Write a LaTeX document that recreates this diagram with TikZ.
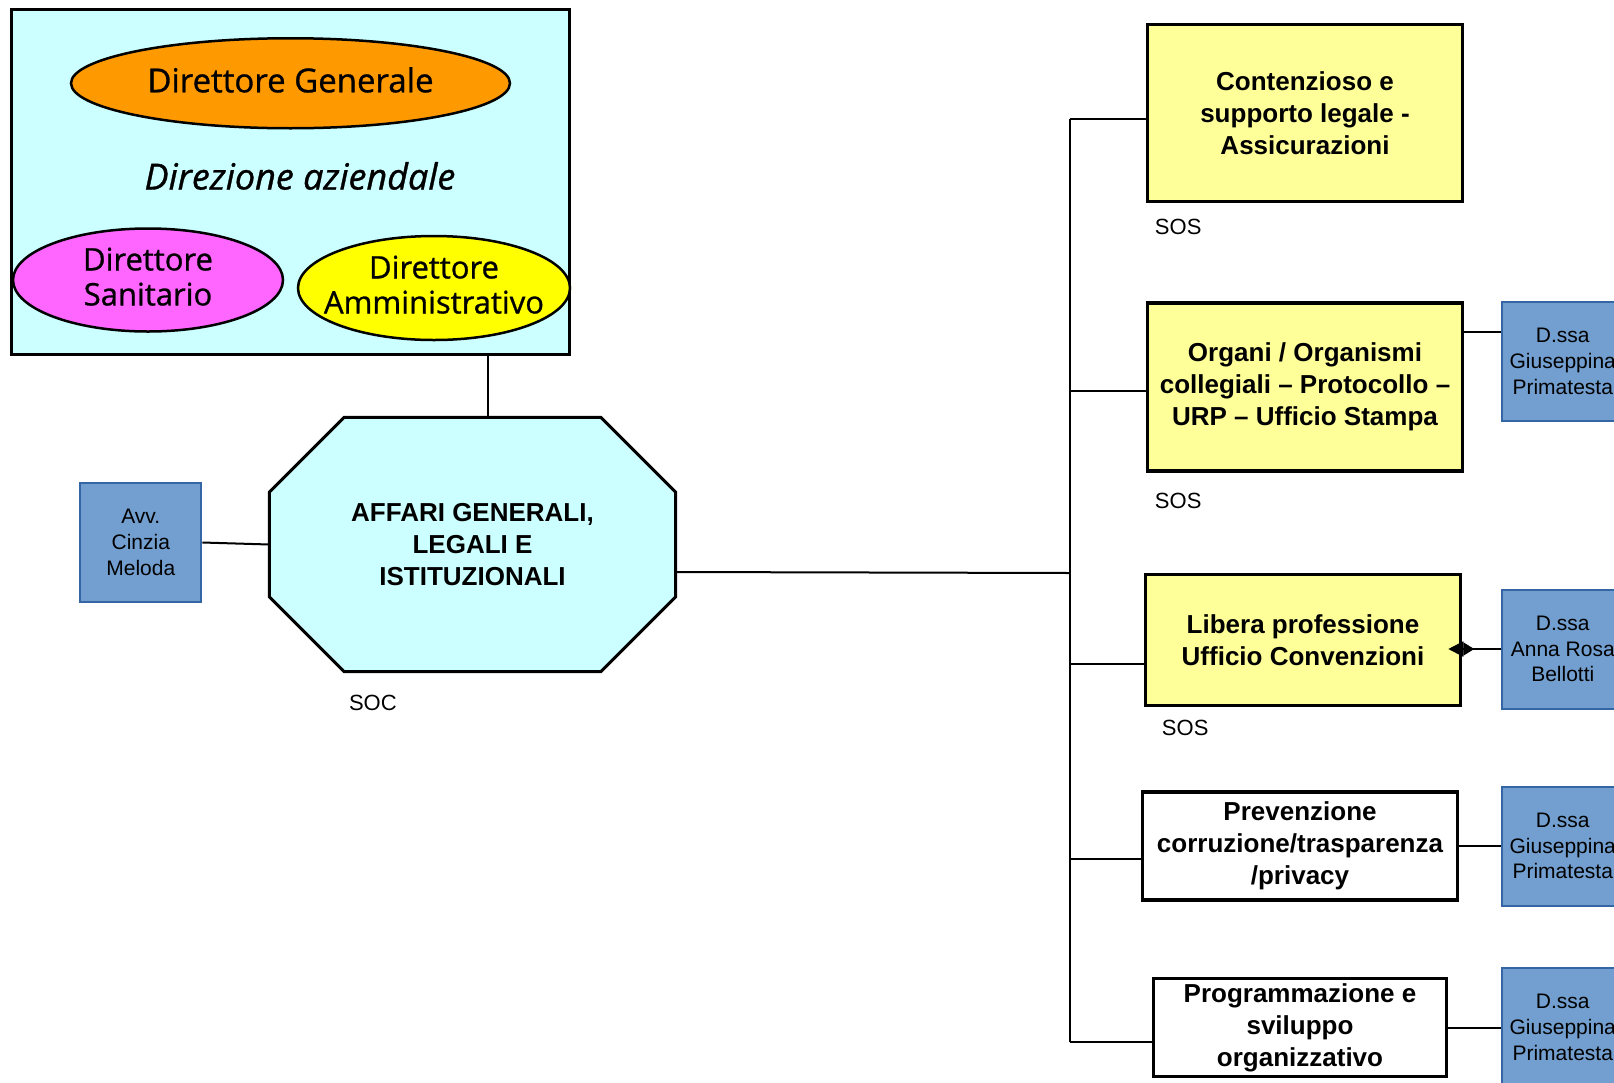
\documentclass[tikz,border=0pt]{standalone}
\usepackage{fontspec}
\setmainfont{Liberation Sans}
\newfontfamily\ellfont[FakeBold=0.9]{Open Sans}
\usetikzlibrary{positioning, shapes.geometric, arrows.meta, calc, backgrounds}

\definecolor{dircyan}{HTML}{CCFFFF}
\definecolor{dgorange}{HTML}{FF9900}
\definecolor{dsmagenta}{HTML}{FF66FF}
\definecolor{dayellow}{HTML}{FFFF00}
\definecolor{sosyellow}{HTML}{FFFF99}
\definecolor{respfill}{HTML}{729FCF}
\definecolor{respline}{HTML}{3465A4}

\tikzset{
  direll/.style={ellipse, draw, line width=2.5pt, inner sep=0pt, text depth=7pt, align=center,
    font=\ellfont\fontsize{31}{35}\selectfont},
  unit/.style={rectangle, draw, line width=3.5pt, fill=sosyellow, inner sep=0pt,
    minimum width=315pt, align=center, font=\bfseries\fontsize{26}{32}\selectfont},
  resp/.style={rectangle, draw=respline, line width=2pt, fill=respfill, inner sep=0pt,
    minimum width=121pt, minimum height=119pt, align=center,
    font=\fontsize{21}{25.7}\selectfont},
  lbl/.style={inner sep=0pt, anchor=west, font=\fontsize{22}{26}\selectfont},
  conn/.style={line width=2pt},
}

\begin{document}
\begin{tikzpicture}[x=1pt, y=-1pt]
\useasboundingbox (0,0) rectangle (1614,1082);
\clip (0,0) rectangle (1614,1082);

% direzione aziendale
\node[draw, line width=3pt, fill=dircyan, minimum width=558pt, minimum height=345pt] (dir) at (290.5,182) {};
\node[direll, fill=dgorange, minimum width=439pt, minimum height=90pt,
  font=\ellfont\fontsize{33}{37}\selectfont] (dg) [below=29pt of dir.north] {Direttore Generale};
\node[font=\ellfont\itshape\fontsize{36}{40}\selectfont] (daz) at (300,176) {Direzione aziendale};
\node[direll, fill=dsmagenta, minimum width=270pt, minimum height=103pt] (ds) at (148,280) {Direttore\\Sanitario};
\node[direll, fill=dayellow, inner xsep=-14pt, minimum width=272pt, minimum height=104pt] (da) at (434,288) {Direttore\\Amministrativo};

% SOC
\node[minimum width=406pt, minimum height=254pt, inner sep=0pt, align=center,
  font=\bfseries\fontsize{26}{32}\selectfont] (agi) at (472.5,544.5)
  {AFFARI GENERALI,\\LEGALI E\\ISTITUZIONALI};
\begin{scope}[on background layer]
\draw[line width=3pt, fill=dircyan] ([xshift=75pt]agi.north west) -- ([xshift=-75pt]agi.north east)
  -- ([yshift=-75pt]agi.north east) -- ([yshift=75pt]agi.south east)
  -- ([xshift=-75pt]agi.south east) -- ([xshift=75pt]agi.south west)
  -- ([yshift=75pt]agi.south west) -- ([yshift=-75pt]agi.north west) -- cycle;
\end{scope}
\node[lbl] (soc) at ([xshift=79.5pt, yshift=-31.5pt]agi.south west) {SOC};
\node[resp] (avv) [left=67pt of agi, yshift=2pt] {Avv.\\Cinzia\\Meloda};

% SOS
\node[unit, minimum height=177pt] (c1) at (1305,113) {Contenzioso e\\supporto legale -\\Assicurazioni};
\node[unit, minimum height=168pt] (c2) [below=98pt of c1] {Organi / Organismi\\collegiali -- Protocollo --\\URP -- Ufficio Stampa};
\node[unit, minimum height=131pt] (c3) [below=100pt of c2, xshift=-2pt] {Libera professione\\Ufficio Convenzioni};
\node[unit, fill=white, minimum height=108pt] (c4) [below=83pt of c3, xshift=-3pt] {Prevenzione\\corruzione/trasparenza\\/privacy};
\node[unit, fill=white, minimum width=293pt, minimum height=98pt] (c5) [below=75pt of c4] {Programmazione e\\sviluppo\\organizzativo};

\node[lbl] (sos1) at ([xshift=9pt, yshift=-24pt]c1.south west) {SOS};
\node[lbl] (sos2) at ([xshift=9pt, yshift=-28pt]c2.south west) {SOS};
\node[lbl] (sos3) at ([xshift=18pt, yshift=-21pt]c3.south west) {SOS};

% responsabili
\node[resp] (p1) [right=37pt of c2, yshift=25.5pt] {D.ssa\\Giuseppina\\Primatesta};
\node[resp] (p2) [right=39pt of c3, yshift=-9pt] {D.ssa\\Anna Rosa\\Bellotti};
\node[resp] (p3) [right=42pt of c4] {D.ssa\\Giuseppina\\Primatesta};
\node[resp] (p4) [right=53pt of c5] {D.ssa\\Giuseppina\\Primatesta};

% collegamenti
\coordinate (hub) at (1070,573);
\coordinate (b1) at (1070,119);
\coordinate (b2) at (1070,391);
\coordinate (b3) at (1070,664);
\coordinate (b4) at (1070,859);
\coordinate (b5) at (1070,1042);

\draw[conn] ([xshift=15.5pt]agi.north) -- ([xshift=15.5pt]agi.north |- dir.south);
\draw[conn] (avv.east) -- (agi.west);
\draw[conn] ([yshift=-27.5pt]agi.east) -- (hub);
\draw[conn] (b1) -- (b5);
\foreach \i in {1,...,5}
  \draw[conn] (b\i) -- (b\i -| c\i.west);

\draw[conn] ([yshift=30pt]p1.west) -- ([yshift=30pt]p1.west -| c2.east);
\draw[conn, shorten >=-14pt, -{Triangle[reversed, length=11pt, width=13pt] Triangle[length=15pt, width=15pt]}]
  (p2.west) -- (p2.west -| c3.east);
\draw[conn] (p3.west) -- (p3.west -| c4.east);
\draw[conn] (p4.west) -- (p4.west -| c5.east);
\end{tikzpicture}
\end{document}
